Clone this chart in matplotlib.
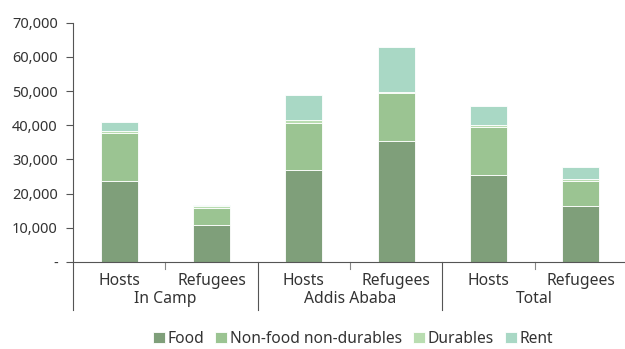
import matplotlib
matplotlib.use("Agg")
import matplotlib.pyplot as plt
import matplotlib.transforms as mtransforms
import numpy as np

# Данные
groups = ["In Camp", "Addis Ababa", "Total"]
sub_labels = ["Hosts", "Refugees", "Hosts", "Refugees", "Hosts", "Refugees"]
series_names = ["Food", "Non-food non-durables", "Durables", "Rent"]
food = [23750, 10900, 26960, 35350, 25590, 16540]
nonfood = [13940, 4880, 13830, 14020, 14020, 7300]
durables = [760, 700, 780, 290, 390, 400]
rent = [2450, 250, 7210, 13150, 5660, 3690]
colors = ["#7f9f7a", "#9bc492", "#b9ddb1", "#a9d8c5"]
y_ticks = [0, 10000, 20000, 30000, 40000, 50000, 60000, 70000]

plt.rcParams["font.family"] = ["Noto Sans", "DejaVu Sans"]
TEXT = "#333333"

fig = plt.figure(figsize=(6.25, 3.49), dpi=100)
ax = fig.add_axes([0.117, 0.249, 0.886, 0.686])

x = np.arange(len(sub_labels))
bottom = np.zeros(len(x))
for name, vals, col in zip(series_names, [food, nonfood, durables, rent], colors):
    ax.bar(x, vals, 0.4, bottom=bottom, color=col, label=name,
           edgecolor="white", linewidth=0.6)
    bottom += np.array(vals)

ax.set_xlim(-0.5, len(x) - 0.5)
ax.set_ylim(0, 70000)
ax.set_yticks(y_ticks)
ax.set_yticklabels(["-" if v == 0 else f"{v:,}" for v in y_ticks])
ax.tick_params(axis="y", length=5, width=0.8, color="#555555", labelsize=10.5,
               labelcolor=TEXT, pad=6)
ax.set_xticks([])

for s in ["top", "right"]:
    ax.spines[s].set_visible(False)
ax.spines["left"].set_color("#555555")
ax.spines["bottom"].set_color("#555555")

# Многоуровневая ось X
trans = mtransforms.blended_transform_factory(ax.transData, ax.transAxes)
for xi, lab in zip(x, sub_labels):
    ax.text(xi, -0.045, lab, transform=trans, ha="center", va="top",
            fontsize=11.3, color=TEXT)
for g, name in enumerate(groups):
    ax.text(2 * g + 0.5, -0.12, name, transform=trans, ha="center", va="top",
            fontsize=11.3, color=TEXT)
    # короткий тик внутри группы
    ax.plot([2 * g + 0.5, 2 * g + 0.5], [0, -0.03], transform=trans,
            color="#888888", lw=0.8, clip_on=False)
    # разделитель групп
    ax.plot([2 * g - 0.5, 2 * g - 0.5], [0, -0.2], transform=trans,
            color="#555555", lw=0.8, clip_on=False)

fig.legend(loc="lower center", bbox_to_anchor=(0.565, -0.035), ncol=4,
           frameon=False, fontsize=11.2, handlelength=0.75, handleheight=0.75,
           handletextpad=0.2, columnspacing=0.7, labelcolor=TEXT)

fig.savefig("out.png", dpi=100)
